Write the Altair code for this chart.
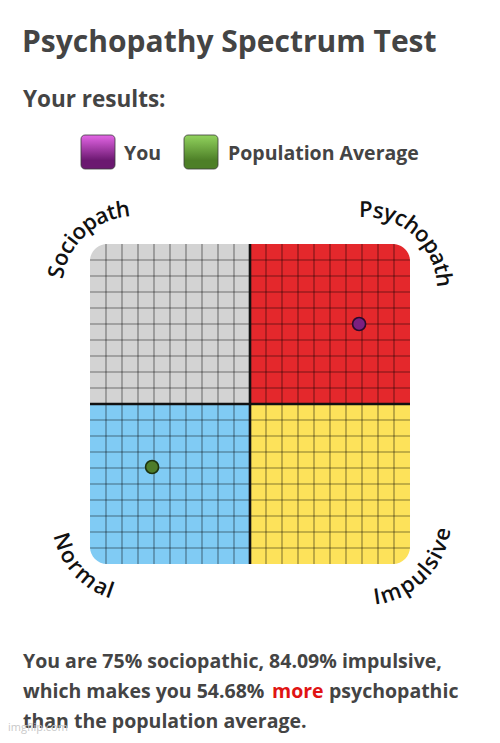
import math
import altair as alt
import pandas as pd

# ---------------- data ----------------
title_text = "Psychopathy Spectrum Test"
subtitle_text = "Your results:"

series_names = ["You", "Population Average"]
impulsive_pct = [84.09, 19.4]      # x
sociopathic_pct = [75.0, 30.3]     # y
point_fill = ["#7b1f80", "#4e7c2a"]
point_stroke = ["#2a0a2c", "#1c3310"]

quadrant_names = ["Sociopath", "Psychopath", "Normal", "Impulsive"]
quad_x0 = [0, 50, 0, 50]
quad_x1 = [50, 100, 50, 100]
quad_y0 = [50, 50, 0, 0]
quad_y1 = [100, 100, 50, 50]
quad_colors = ["#d3d3d3", "#e4282c", "#80cbf4", "#fde25a"]

grid_values = [5, 10, 15, 20, 25, 30, 35, 40, 45, 55, 60, 65, 70, 75, 80, 85, 90, 95]
center_value = [50]

line1 = "You are 75% sociopathic, 84.09% impulsive,"
line2a = "which makes you 54.68%"
line2b = "more"
line2c = "psychopathic"
line3 = "than the population average."
watermark = "imgflip.com"

# ---------------- layout helpers ----------------
W, H = 320, 320
FONT = "Open Sans"
TXT = "#444444"

# approximate glyph advance widths (em) for curved labels
ADV = {"S": 0.56, "o": 0.60, "c": 0.50, "i": 0.27, "p": 0.61, "a": 0.56, "t": 0.37,
       "h": 0.61, "P": 0.60, "s": 0.48, "y": 0.52, "N": 0.74, "r": 0.42, "m": 0.93,
       "l": 0.27, "I": 0.29, "u": 0.61, "v": 0.52, "e": 0.56}

LABEL_SIZE = 22
INSET = 45
# centre x, centre y, mid angle, radius, tops outward
label_geom = {
    "Sociopath": (INSET, INSET, 227, 80, True),
    "Psychopath": (W - INSET, INSET, 312, 79, True),
    "Normal": (INSET, H - INSET, 138, 76, False),
    "Impulsive": (W - INSET, H - INSET, 45, 79, False),
}

rows = []
for word in quadrant_names:
    cx, cy, mid, R, top_out = label_geom[word]
    widths = [ADV.get(ch, 0.55) * LABEL_SIZE * 1.07 for ch in word]
    total = sum(widths)
    span = total / R
    midr = math.radians(mid)
    cum = 0.0
    for ch, w in zip(word, widths):
        off = (cum + w / 2) / R
        if top_out:
            th = midr - span / 2 + off
            ang = math.degrees(th) + 90
        else:
            th = midr + span / 2 - off
            ang = math.degrees(th) - 90
        px = cx + R * math.cos(th)
        py = cy + R * math.sin(th)
        rows.append({"ch": ch,
                     "xd": px / W * 100,
                     "yd": 100 - py / H * 100,
                     "ang": ang % 360})
        cum += w
chars_df = pd.DataFrame(rows)

quad_df = pd.DataFrame({"name": quadrant_names, "x0": quad_x0, "x1": quad_x1,
                        "y0": quad_y0, "y1": quad_y1})
pts_df = pd.DataFrame({"series": series_names, "impulsive": impulsive_pct,
                       "sociopathic": sociopathic_pct})
grid_df = pd.DataFrame({"v": grid_values})
center_df = pd.DataFrame({"v": center_value})
one = pd.DataFrame({"k": [0]})

xs = alt.Scale(domain=[0, 100], nice=False, zero=False)
ys = alt.Scale(domain=[0, 100], nice=False, zero=False)

# quadrants with one rounded outer corner each
corners = ["cornerRadiusTopLeft", "cornerRadiusTopRight",
           "cornerRadiusBottomLeft", "cornerRadiusBottomRight"]
quad_layers = []
for name, corner, col in zip(quadrant_names, corners, quad_colors):
    quad_layers.append(
        alt.Chart(quad_df).transform_filter(alt.datum.name == name)
        .mark_rect(color=col, **{corner: 17})
        .encode(x=alt.X("x0:Q", scale=xs, axis=None), x2="x1:Q",
                y=alt.Y("y0:Q", scale=ys, axis=None), y2="y1:Q")
    )

vgrid = alt.Chart(grid_df).mark_rule(color="#000000", opacity=0.47, strokeWidth=1.1).encode(
    x=alt.X("v:Q", scale=xs, axis=None), y=alt.value(0), y2=alt.value(H))
hgrid = alt.Chart(grid_df).mark_rule(color="#000000", opacity=0.47, strokeWidth=1.1).encode(
    y=alt.Y("v:Q", scale=ys, axis=None), x=alt.value(0), x2=alt.value(W))
vcenter = alt.Chart(center_df).mark_rule(color="#111111", strokeWidth=2.6).encode(
    x=alt.X("v:Q", scale=xs, axis=None), y=alt.value(0), y2=alt.value(H))
hcenter = alt.Chart(center_df).mark_rule(color="#111111", strokeWidth=2.6).encode(
    y=alt.Y("v:Q", scale=ys, axis=None), x=alt.value(0), x2=alt.value(W))

points = alt.Chart(pts_df).mark_circle(size=170, opacity=1, strokeWidth=1.6).encode(
    x=alt.X("impulsive:Q", scale=xs, axis=None),
    y=alt.Y("sociopathic:Q", scale=ys, axis=None),
    fill=alt.Fill("series:N", scale=alt.Scale(domain=series_names, range=point_fill), legend=None),
    stroke=alt.Stroke("series:N", scale=alt.Scale(domain=series_names, range=point_stroke), legend=None),
)

curved = alt.Chart(chars_df).mark_text(font=FONT, fontSize=LABEL_SIZE, fontWeight=600,
                                      color="#111111", align="center", baseline="middle").encode(
    x=alt.X("xd:Q", scale=xs, axis=None),
    y=alt.Y("yd:Q", scale=ys, axis=None),
    text="ch:N",
    angle=alt.Angle("ang:Q", scale=alt.Scale(domain=[0, 360], range=[0, 360])),
)


def label(txt, x, y, size, weight="bold", color=TXT):
    return alt.Chart(one).mark_text(text=txt, align="left", baseline="alphabetic", font=FONT,
                                    fontSize=size, fontWeight=weight, color=color).encode(
        x=alt.value(x), y=alt.value(y))


def swatch(x0, top, bottom, x1):
    return alt.Chart(one).mark_rect(
        cornerRadius=4, stroke="#3a3a3a", strokeWidth=0.8,
        fill=alt.Gradient(gradient="linear", x1=0, x2=0, y1=0, y2=1,
                          stops=[alt.GradientStop(color=top, offset=0),
                                 alt.GradientStop(color=bottom, offset=0.75),
                                 alt.GradientStop(color=bottom, offset=1)])
    ).encode(x=alt.value(x0), x2=alt.value(x1), y=alt.value(-109), y2=alt.value(-75))


BODY = 19.5
texts = [
    label(title_text, -68, -192, 30),
    label(subtitle_text, -67, -137, 22.5),
    swatch(-9, "#e466e6", "#6b1870", 25),
    label(series_names[0], 34, -84, 19.5),
    swatch(94, "#92d35e", "#4d7f27", 128),
    label(series_names[1], 138, -84, 19.5),
    label(line1, -67, 424, BODY),
    label(line2a, -67, 454, BODY),
    label(line2b, 182, 454, BODY, color="#e01414"),
    label(line2c, 239, 454, BODY),
    label(line3, -67, 484, BODY),
    label(watermark, -82, 487, 11, weight="normal", color="#c8c8c8"),
]

chart = alt.layer(
    *quad_layers, vgrid, hgrid, vcenter, hcenter, points, curved, *texts
).properties(
    width=W, height=H,
    autosize=alt.AutoSizeParams(type="none"),
    padding={"left": 82, "top": 236, "right": 82, "bottom": 171},
).configure_view(stroke=None)

chart.save("out.html", embed_options={"renderer": "svg", "actions": False})
